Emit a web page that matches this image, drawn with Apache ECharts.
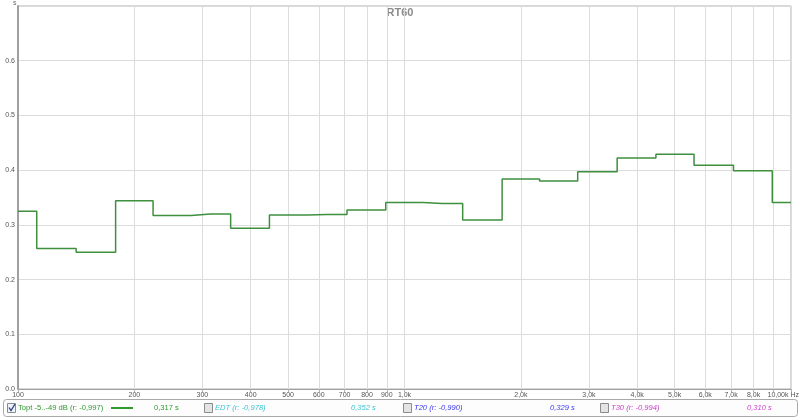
<!DOCTYPE html>
<html>
<head>
<meta charset="utf-8">
<script src="https://cdn.jsdelivr.net/npm/echarts@6/dist/echarts.min.js"></script>
<style>
html,body{margin:0;padding:0;background:#fff;}
#chart{width:800px;height:418px;}
</style>
</head>
<body>
<div id="chart"></div>
<script>
// 1/3-octave band centre frequencies (Hz)
var freqs = [100,125,160,200,250,315,400,500,630,800,1000,1250,1600,2000,2500,3150,4000,5000,6300,8000,10000];
// Topt RT60 values (s)
var rt60 = [0.325,0.257,0.250,0.344,0.317,0.320,0.294,0.318,0.319,0.327,0.341,0.339,0.309,0.384,0.380,0.397,0.422,0.429,0.409,0.399,0.341];
// x gridline / tick positions and labelled ticks
var xGrid = [100,200,300,400,500,600,700,800,900,1000,2000,3000,4000,5000,6000,7000,8000,9000,10000];
var xLabelled = [100,200,300,400,500,600,700,800,900,1000,2000,3000,4000,5000,6000,7000,8000];
// legend
var legendNames = ['Topt -5..-49 dB (r: -0,997)','EDT (r: -0,978)','T20 (r: -0,990)','T30 (r: -0,994)'];
var legendValues = ['0,317 s','0,352 s','0,329 s','0,310 s'];
var legendColors = ['#2f9a2f','#3ec3d3','#3a3af0','#cc3fcc'];
var legendChecked = [true,false,false,false];

var FONT = '"Liberation Sans", Arial, sans-serif';
var chart = echarts.init(document.getElementById('chart'));

function fmtX(v){
  if (v < 1000) return String(v);
  return (v/1000).toFixed(1).replace('.', ',') + 'k';
}

var graphics = [];
// title
graphics.push({type:'text', left:'center', top:7, style:{text:'RT60', font:'bold 11px ' + FONT, fill:'#8a8a8a'}});
// unit
graphics.push({type:'text', x:13, y:0, style:{text:'s', font:'7px ' + FONT, fill:'#666'}});
// last x label
graphics.push({type:'text', x:799, y:392, style:{text:'10,00k Hz', font:'7px ' + FONT, fill:'#555', align:'right'}});
// legend box
graphics.push({type:'rect', shape:{x:3.5, y:399.5, width:794, height:17, r:3}, style:{fill:'#fdfdfd', stroke:'#a8a8a8', lineWidth:1}});
var slotX = [7, 204, 403, 600];
for (var i = 0; i < legendNames.length; i++) {
  var x0 = slotX[i];
  graphics.push({type:'rect', shape:{x:x0+0.5, y:403.5, width:8, height:9}, style:{fill: legendChecked[i] ? '#eef2fa' : '#e4e4e4', stroke:'#8c8c8c', lineWidth:1}});
  if (legendChecked[i]) {
    graphics.push({type:'polyline', shape:{points:[[x0+2,407.5],[x0+4,410.5],[x0+8,404]]}, style:{stroke:'#2a3f7a', lineWidth:1.3, fill:null}});
  }
  graphics.push({type:'text', x:x0+11, y:408, style:{text:legendNames[i], font:(i>0?'italic ':'') + '7.6px ' + FONT, fill:legendColors[i], verticalAlign:'middle'}});
  graphics.push({type:'text', x:x0+147, y:408, style:{text:legendValues[i], font:(i>0?'italic ':'') + '7.6px ' + FONT, fill:legendColors[i], verticalAlign:'middle'}});
}
graphics.push({type:'line', shape:{x1:111, y1:408, x2:133, y2:408}, style:{stroke:'#2f9a2f', lineWidth:2}});

chart.setOption({
  animation:false,
  backgroundColor:'#fff',
  grid:{left:18, right:9, top:6, bottom:29, show:true, borderColor:'#b0b0b0', borderWidth:1, containLabel:false},
  xAxis:{
    type:'log', logBase:10, min:100, max:10000,
    axisLine:{show:true, lineStyle:{color:'#a0a0a0', width:1}},
    axisTick:{show:true, length:3, customValues:xGrid, lineStyle:{color:'#b0b0b0'}},
    axisLabel:{show:true, customValues:xLabelled, formatter:fmtX, fontSize:7, color:'#555', margin:3, fontFamily:FONT},
    splitLine:{show:true, lineStyle:{color:'#dcdcdc', width:1}},
    minorTick:{show:false}, minorSplitLine:{show:false}
  },
  yAxis:{
    type:'value', min:0, max:0.7, interval:0.1,
    axisLine:{show:true, lineStyle:{color:'#a0a0a0', width:2}},
    axisTick:{show:false},
    axisLabel:{fontSize:7, color:'#555', margin:3, fontFamily:FONT, formatter:function(v){ return v > 0.65 ? '' : v.toFixed(1); }},
    splitLine:{show:true, lineStyle:{color:'#dcdcdc', width:1}}
  },
  series:[{
    type:'line', step:'middle', showSymbol:false, symbol:'none',
    data: freqs.map(function(f, i){ return [f, rt60[i]]; }),
    lineStyle:{color:'#3e8f3e', width:1.5},
    itemStyle:{color:'#3e8f3e'}
  }],
  graphic: graphics
});
</script>
</body>
</html>
